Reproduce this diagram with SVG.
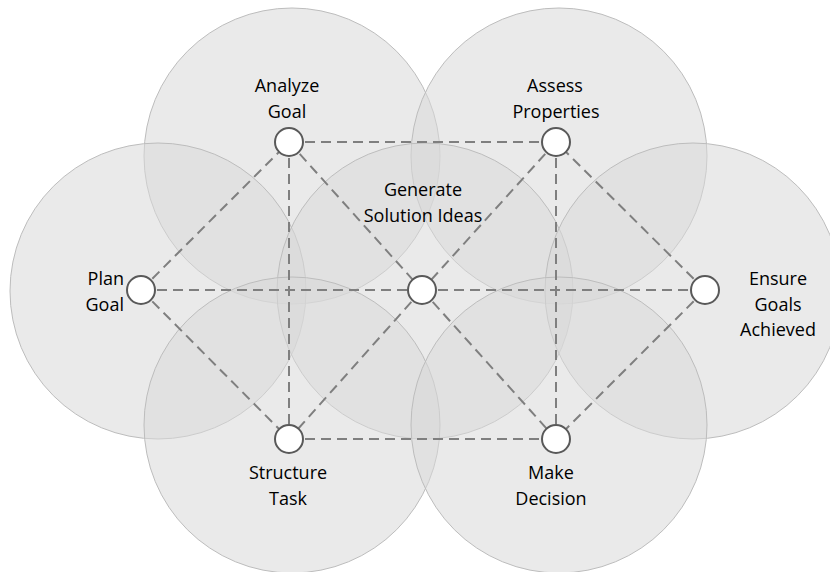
<svg xmlns="http://www.w3.org/2000/svg" width="830" height="572" viewBox="0 0 830 572">
<style>
.big{fill:#d9d9d9;fill-opacity:0.55;stroke:#bdbdbd;stroke-width:1}
.edge{stroke:#7f7f7f;stroke-width:2;stroke-dasharray:10,6;fill:none}
.node{fill:#ffffff;stroke:#595959;stroke-width:2}
.lbl{font-family:"Open Sans","Liberation Sans",sans-serif;font-size:18px;fill:#000000}
</style>
<rect width="830" height="572" fill="#ffffff"/>
<g id="areas">
<circle class="big" cx="292" cy="156" r="148"/>
<circle class="big" cx="559" cy="156" r="148"/>
<circle class="big" cx="158" cy="291" r="148"/>
<circle class="big" cx="425" cy="291" r="148"/>
<circle class="big" cx="693" cy="291" r="148"/>
<circle class="big" cx="292" cy="425" r="148"/>
<circle class="big" cx="559" cy="425" r="148"/>
</g>
<g id="connectors">
<line class="edge" x1="289" y1="142" x2="556" y2="142"/>
<line class="edge" x1="289" y1="439" x2="556" y2="439"/>
<line class="edge" x1="141" y1="290" x2="422" y2="290"/>
<line class="edge" x1="422" y1="290" x2="705" y2="290"/>
<line class="edge" x1="289" y1="142" x2="289" y2="439"/>
<line class="edge" x1="556" y1="142" x2="556" y2="439"/>
<line class="edge" x1="141" y1="290" x2="289" y2="142"/>
<line class="edge" x1="141" y1="290" x2="289" y2="439"/>
<line class="edge" x1="705" y1="290" x2="556" y2="142"/>
<line class="edge" x1="705" y1="290" x2="556" y2="439"/>
<line class="edge" x1="289" y1="142" x2="422" y2="290"/>
<line class="edge" x1="422" y1="290" x2="556" y2="439"/>
<line class="edge" x1="556" y1="142" x2="422" y2="290"/>
<line class="edge" x1="422" y1="290" x2="289" y2="439"/>
</g>
<g id="analyze-goal">
<circle class="node" cx="289" cy="142" r="14"/>
<text class="lbl" text-anchor="middle" x="287" y="92">Analyze</text>
<text class="lbl" text-anchor="middle" x="287" y="118">Goal</text>
</g>
<g id="assess-properties">
<circle class="node" cx="556" cy="142" r="14"/>
<text class="lbl" text-anchor="middle" x="555" y="92">Assess</text>
<text class="lbl" text-anchor="middle" x="556" y="118">Properties</text>
</g>
<g id="plan-goal">
<circle class="node" cx="141" cy="290" r="14"/>
<text class="lbl" text-anchor="end" x="124" y="285">Plan</text>
<text class="lbl" text-anchor="end" x="124" y="311">Goal</text>
</g>
<g id="generate-solution-ideas">
<circle class="node" cx="422" cy="290" r="14"/>
<text class="lbl" text-anchor="middle" x="423" y="196">Generate</text>
<text class="lbl" text-anchor="middle" x="423" y="222">Solution Ideas</text>
</g>
<g id="ensure-goals-achieved">
<circle class="node" cx="705" cy="290" r="14"/>
<text class="lbl" text-anchor="middle" x="778" y="285">Ensure</text>
<text class="lbl" text-anchor="middle" x="778" y="311">Goals</text>
<text class="lbl" text-anchor="middle" x="778" y="336">Achieved</text>
</g>
<g id="structure-task">
<circle class="node" cx="289" cy="439" r="14"/>
<text class="lbl" text-anchor="middle" x="288" y="479">Structure</text>
<text class="lbl" text-anchor="middle" x="288" y="505">Task</text>
</g>
<g id="make-decision">
<circle class="node" cx="556" cy="439" r="14"/>
<text class="lbl" text-anchor="middle" x="551" y="479">Make</text>
<text class="lbl" text-anchor="middle" x="551" y="505">Decision</text>
</g>
</svg>
